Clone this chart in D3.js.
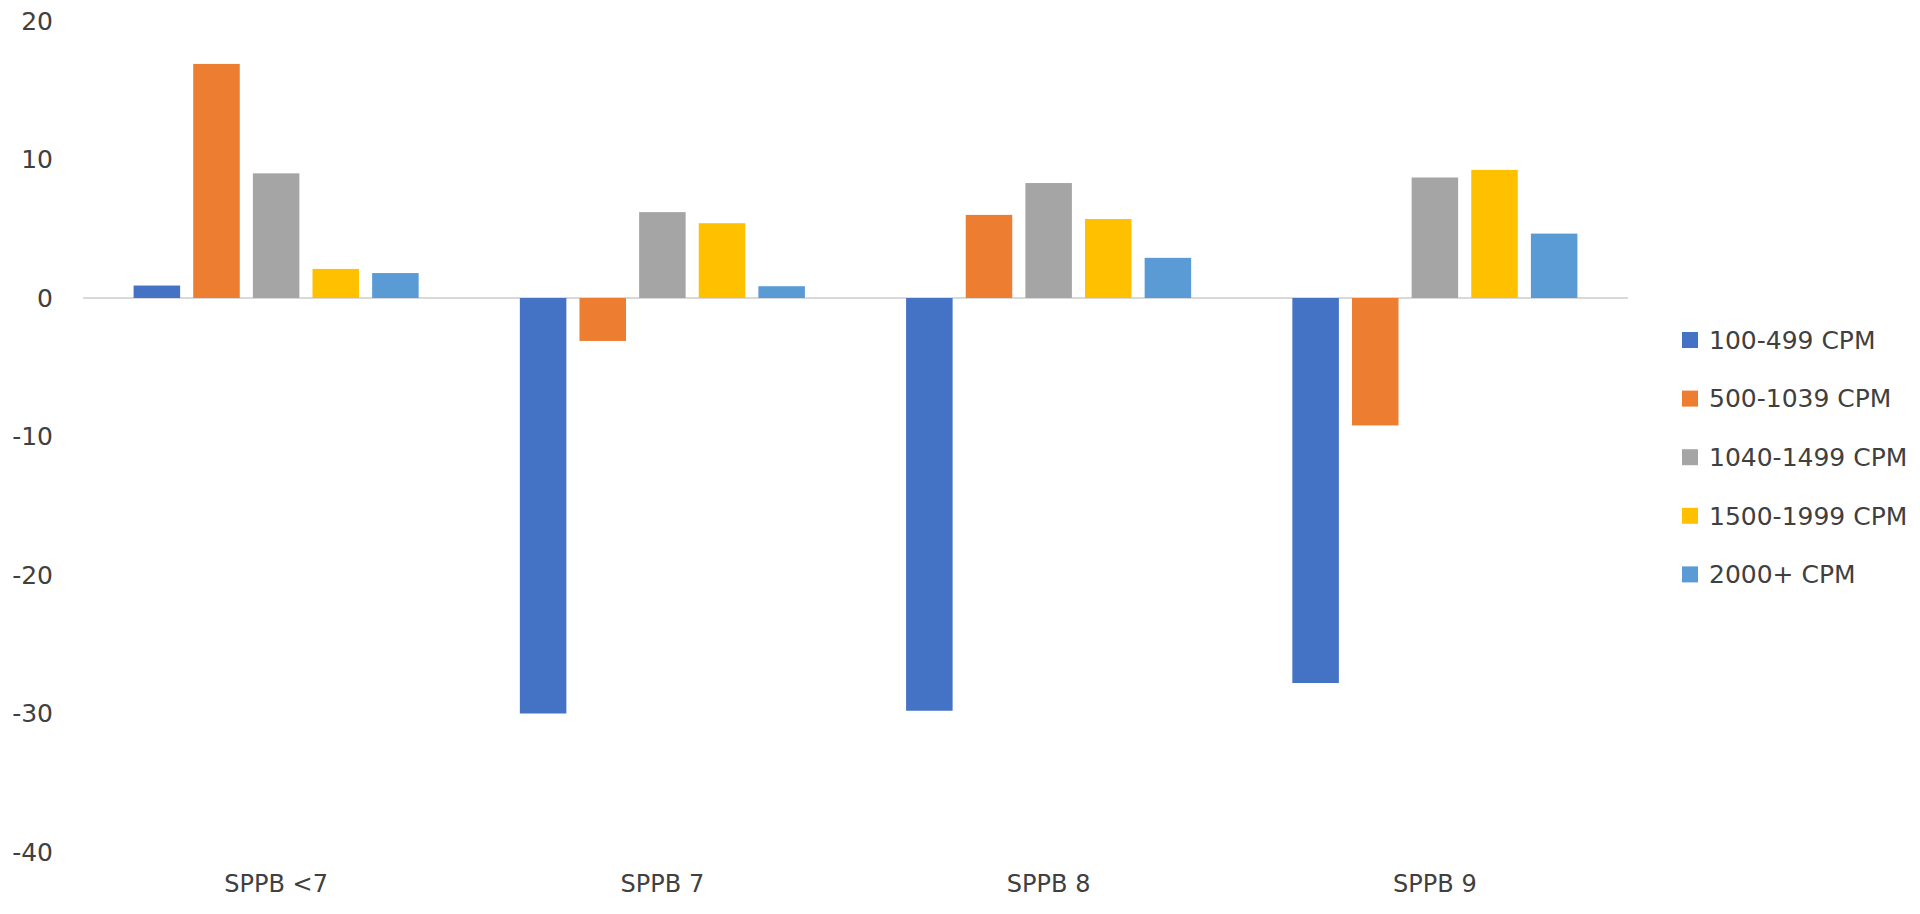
<html>
<head>
<meta charset="utf-8">
<script src="https://d3js.org/d3.v7.min.js"></script>
<style>
  body { margin: 0; background: #fff; }
  text { font-family: "DejaVu Sans", sans-serif; fill: #404040; }
</style>
</head>
<body>
<script>
// chart values
var categories = ["SPPB <7", "SPPB 7", "SPPB 8", "SPPB 9"];
var seriesNames = ["100-499 CPM", "500-1039 CPM", "1040-1499 CPM", "1500-1999 CPM", "2000+ CPM"];
var seriesColors = ["#4472C4", "#ED7D31", "#A5A5A5", "#FFC000", "#5B9BD5"];
var cpm100 = [0.9, -30.0, -29.8, -27.8];
var cpm500 = [16.9, -3.1, 6.0, -9.2];
var cpm1040 = [9.0, 6.2, 8.3, 8.7];
var cpm1500 = [2.1, 5.4, 5.7, 9.25];
var cpm2000 = [1.8, 0.85, 2.9, 4.65];
var yTicks = [20, 10, 0, -10, -20, -30, -40];

var allSeries = [cpm100, cpm500, cpm1040, cpm1500, cpm2000];

var width = 1920, height = 914;
var plot = {left: 83, right: 1628, top: 21, bottom: 852};

var svg = d3.select("body").append("svg")
    .attr("width", width)
    .attr("height", height);

var x0 = d3.scaleBand()
    .domain(categories)
    .range([plot.left, plot.right])
    .paddingInner(0.262)
    .paddingOuter(0.131);

var x1 = d3.scaleBand()
    .domain(seriesNames)
    .range([0, x0.bandwidth()])
    .paddingInner(0.22);

var y = d3.scaleLinear()
    .domain([-40, 20])
    .range([plot.bottom, plot.top]);

// y labels only, no axis line / ticks; plain hyphen for negatives
var yAxis = svg.append("g")
    .attr("transform", "translate(" + plot.left + ",0)")
    .call(d3.axisLeft(y).tickValues(yTicks).tickSize(0).tickPadding(30)
        .tickFormat(d => String(d)))
    .call(g => g.select(".domain").remove());
yAxis.selectAll("text")
    .attr("font-size", 25)
    .attr("font-family", "DejaVu Sans")
    .style("fill", "#404040");

// zero line
svg.append("line")
    .attr("x1", plot.left).attr("x2", plot.right)
    .attr("y1", y(0)).attr("y2", y(0))
    .attr("stroke", "#d9d9d9")
    .attr("stroke-width", 2);

var rows = [];
categories.forEach(function(c, i) {
    seriesNames.forEach(function(s, j) {
        rows.push({cat: c, series: s, color: seriesColors[j], value: allSeries[j][i]});
    });
});

svg.append("g").selectAll("rect")
    .data(rows).enter()
    .append("rect")
    .attr("x", d => x0(d.cat) + x1(d.series))
    .attr("width", x1.bandwidth())
    .attr("y", d => Math.min(y(d.value), y(0)))
    .attr("height", d => Math.abs(y(d.value) - y(0)))
    .attr("fill", d => d.color);

// category labels at the bottom
var xAxis = svg.append("g")
    .attr("transform", "translate(0,875)")
    .call(d3.axisBottom(x0).tickSize(0).tickPadding(0))
    .call(g => g.select(".domain").remove());
xAxis.selectAll("text")
    .attr("font-size", 24)
    .attr("font-family", "DejaVu Sans")
    .style("fill", "#404040");

// legend
var legend = svg.append("g")
    .attr("transform", "translate(1682,340)");
var item = legend.selectAll("g")
    .data(seriesNames).enter()
    .append("g")
    .attr("transform", (d, i) => "translate(0," + (i * 58.6) + ")");
item.append("rect")
    .attr("x", 0).attr("y", -8)
    .attr("width", 16).attr("height", 16)
    .attr("fill", (d, i) => seriesColors[i]);
item.append("text")
    .attr("x", 27)
    .attr("dy", "0.35em")
    .attr("font-size", 25)
    .text(d => d);
</script>
</body>
</html>
